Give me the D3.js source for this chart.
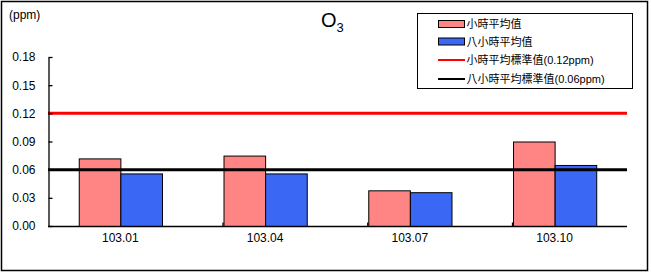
<!DOCTYPE html>
<html>
<head>
<meta charset="utf-8">
<script src="https://cdn.jsdelivr.net/npm/d3@7/dist/d3.min.js"></script>
<style>
  body { margin: 0; background: #fff; }
  svg text { font-family: "Liberation Sans", Arial, "Noto Sans CJK TC", sans-serif; }
</style>
</head>
<body>
<div id="chart-area"></div>
<script>
// data
var periods = ["103.01", "103.04", "103.07", "103.10"];
var hourAvg = [0.072, 0.075, 0.038, 0.090];
var eightHourAvg = [0.056, 0.056, 0.036, 0.065];
var yTicks = [0, 0.03, 0.06, 0.09, 0.12, 0.15, 0.18];
var standards = [0.12, 0.06];
var legendLabels = ["小時平均值", "八小時平均值", "小時平均標準值(0.12ppm)", "八小時平均標準值(0.06ppm)"];

var W = 651, H = 273;
var margin = { left: 48, right: 24, top: 57, bottom: 47 };
var width = W - margin.left - margin.right,
    height = H - margin.top - margin.bottom;

var svg = d3.select("#chart-area").append("svg")
    .attr("width", W)
    .attr("height", H);

// outer frame
svg.append("rect")
    .attr("x", 1.5).attr("y", 1.5)
    .attr("width", 646).attr("height", 269)
    .attr("fill", "#fff")
    .attr("stroke", "#000")
    .attr("stroke-width", 1.5);

var g = svg.append("g")
    .attr("transform", "translate(" + margin.left + "," + margin.top + ")");

// scales
var x = d3.scaleBand().domain(periods).range([0, width]).paddingInner(0.425).paddingOuter(0.2125);
var x1 = d3.scaleBand().domain(["h", "e"]).range([0, x.bandwidth()]);
var y = d3.scaleLinear().domain([0, 0.18]).range([height, 0]);

// bars
var groups = g.selectAll("g.period")
    .data(periods)
    .enter().append("g")
    .attr("class", "period")
    .attr("transform", function (d) { return "translate(" + x(d) + ",0)"; });

groups.append("rect")
    .attr("x", x1("h") + 0.5)
    .attr("y", function (d, i) { return y(hourAvg[i]) + 0.5; })
    .attr("width", x1.bandwidth())
    .attr("height", function (d, i) { return height - y(hourAvg[i]); })
    .attr("fill", "#ff8585")
    .attr("stroke", "#000")
    .attr("stroke-width", 1);

groups.append("rect")
    .attr("x", x1("e") + 0.5)
    .attr("y", function (d, i) { return y(eightHourAvg[i]) + 0.5; })
    .attr("width", x1.bandwidth())
    .attr("height", function (d, i) { return height - y(eightHourAvg[i]); })
    .attr("fill", "#3a68f5")
    .attr("stroke", "#000")
    .attr("stroke-width", 1);

// standard lines
var lineColors = ["#ff0000", "#000000"];
g.selectAll("line.std")
    .data(standards)
    .enter().append("line")
    .attr("class", "std")
    .attr("x1", 0).attr("x2", width)
    .attr("y1", function (d) { return y(d); })
    .attr("y2", function (d) { return y(d); })
    .attr("stroke", function (d, i) { return lineColors[i]; })
    .attr("stroke-width", 3);

// y axis (ticks inward)
var yAxisCall = d3.axisRight(y)
    .tickValues(yTicks)
    .tickSize(4)
    .tickSizeOuter(0)
    .tickFormat(d3.format(".2f"));
var yAxis = g.append("g").attr("class", "y axis").attr("transform", "translate(0.5,0)").call(yAxisCall);
yAxis.select(".domain").attr("stroke", "#000").attr("stroke-width", 1.3);
yAxis.selectAll(".tick line").attr("stroke", "#000").attr("stroke-width", 1.3);
yAxis.selectAll(".tick text")
    .attr("x", -13)
    .attr("text-anchor", "end")
    .attr("fill", "#000")
    .style("font-size", "12px");

// x axis (ticks inward, between categories)
var xAxis = g.append("g").attr("class", "x axis").attr("transform", "translate(0," + (height + 0.5) + ")");
xAxis.append("line")
    .attr("x1", 0).attr("x2", width)
    .attr("stroke", "#000").attr("stroke-width", 1.3);
xAxis.selectAll("line.tk")
    .data(periods)
    .enter().append("line")
    .attr("class", "tk")
    .attr("x1", function (d) { return x(d) + x.bandwidth() + x.step() * x.paddingOuter() * 2 - 0.5; })
    .attr("x2", function (d) { return x(d) + x.bandwidth() + x.step() * x.paddingOuter() * 2 - 0.5; })
    .attr("y1", 0).attr("y2", -4)
    .attr("stroke", "#000").attr("stroke-width", 1.3);
xAxis.selectAll("text")
    .data(periods)
    .enter().append("text")
    .attr("x", function (d) { return x(d) + x.bandwidth() / 2; })
    .attr("y", 15)
    .attr("text-anchor", "middle")
    .attr("fill", "#000")
    .style("font-size", "12px")
    .text(function (d) { return d; });

// unit label
svg.append("text")
    .attr("x", 9).attr("y", 19)
    .style("font-size", "12px")
    .text("(ppm)");

// title
var title = svg.append("text")
    .attr("x", 321).attr("y", 27)
    .style("font-size", "20px");
title.append("tspan").text("O");
title.append("tspan").attr("dy", 5).style("font-size", "13px").text("3");

// legend
var legend = svg.append("g").attr("transform", "translate(417,13)");
legend.append("rect")
    .attr("x", 0.5).attr("y", 0.5)
    .attr("width", 215).attr("height", 75)
    .attr("fill", "#fff")
    .attr("stroke", "#000")
    .attr("stroke-width", 1);

var rowY = [11, 28.5, 47, 66];
var swatchFill = ["#ff8585", "#3a68f5"];
legendLabels.forEach(function (label, i) {
    if (i < 2) {
        legend.append("rect")
            .attr("x", 21.5).attr("y", rowY[i] - 3.5)
            .attr("width", 26).attr("height", 7)
            .attr("fill", swatchFill[i])
            .attr("stroke", "#000")
            .attr("stroke-width", 1);
    } else {
        legend.append("line")
            .attr("x1", 21).attr("x2", 48)
            .attr("y1", rowY[i]).attr("y2", rowY[i])
            .attr("stroke", lineColors[i - 2])
            .attr("stroke-width", 2);
    }
    legend.append("text")
        .attr("x", 49.5)
        .attr("y", rowY[i] + 4)
        .style("font-size", "11px")
        .attr("fill", "#000")
        .text(label);
});
</script>
</body>
</html>
